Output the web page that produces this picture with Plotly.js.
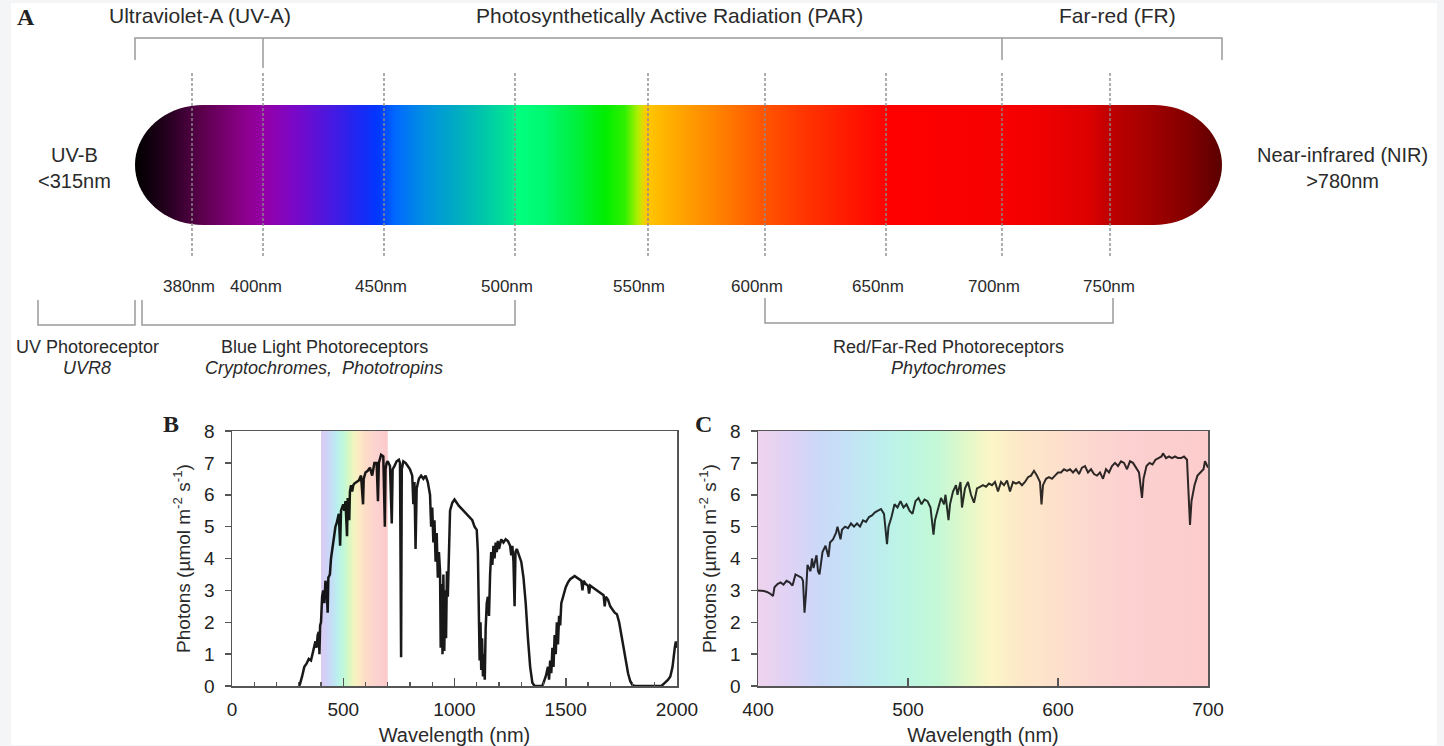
<!DOCTYPE html>
<html><head><meta charset="utf-8">
<script src="https://cdn.plot.ly/plotly-3.0.1.min.js"></script>
<style>html,body{margin:0;padding:0;background:#f4f5f7}</style>
</head><body><div id="chart" style="width:1444px;height:746px"></div>
<script>
// ---------------- DATA ----------------
// Panel B: solar photon spectrum 300-2000 nm
const wlB = [300,305,315,325,335,345,355,365,375,
380,385,390,393,396,400,405,410,415,420,
425,430,433,440,445,450,455,460,465,470,
475,480,486,490,495,500,505,510,517,520,
527,530,535,540,545,550,560,570,580,589,
592,600,610,620,630,640,650,656,660,670,
680,687,690,695,700,710,718,722,730,740,
750,755,760,763,770,780,790,800,810,815,
820,825,830,840,850,860,870,880,890,895,
900,905,910,915,920,925,930,935,938,942,
946,950,954,958,962,966,970,975,980,990,
1000,1010,1020,1040,1060,1080,1090,1100,1105,1110,
1113,1117,1120,1124,1128,1132,1136,1140,1145,1150,
1155,1160,1165,1170,1175,1180,1185,1190,1195,1200,
1210,1220,1230,1240,1250,1255,1260,1265,1270,1274,
1280,1290,1300,1310,1320,1330,1340,1350,1360,1395,
1400,1410,1420,1425,1430,1435,1440,1445,1450,1455,
1460,1465,1470,1475,1480,1490,1500,1510,1520,1530,
1540,1550,1560,1570,1575,1580,1590,1600,1605,1610,
1620,1630,1640,1650,1660,1670,1675,1680,1690,1700,
1710,1720,1730,1740,1750,1760,1770,1780,1790,1800,
1810,1930,1945,1960,1970,1980,1990,1995,2000];
const phB = [0,0.05,0.3,0.6,0.7,0.85,0.8,1.1,1.4,
1.2,1.6,1.7,1.0,1.9,2.0,2.8,3.0,2.6,3.3,
3.1,2.3,3.4,3.5,4.0,4.3,4.6,4.8,5.0,5.1,
5.3,5.4,4.4,5.5,5.6,5.7,5.5,5.8,4.7,5.9,
5.2,6.1,6.3,6.1,6.3,6.35,6.4,6.45,6.6,5.7,
6.5,6.7,6.75,6.85,6.6,7.0,7.0,5.8,7.0,7.25,
7.2,5.0,6.8,7.0,7.05,6.9,5.1,6.8,6.9,7.05,
7.1,7.0,0.9,6.8,7.05,7.0,6.9,6.8,6.6,5.7,
6.4,4.3,6.2,6.5,6.6,6.5,6.6,6.4,6.0,5.0,
5.6,4.5,5.2,3.9,4.8,3.4,4.2,3.6,1.2,3.2,
1.0,3.5,1.1,3.0,1.5,3.6,2.8,4.5,5.5,5.75,
5.85,5.75,5.65,5.5,5.35,5.2,5.0,4.9,4.2,2.5,
0.8,2.0,0.5,1.5,0.3,1.0,0.2,1.8,2.6,2.8,
2.2,3.5,4.2,3.8,4.4,4.0,4.5,4.2,4.55,4.3,
4.6,4.5,4.6,4.55,4.4,4.1,4.4,3.9,2.5,4.2,
4.3,4.1,3.9,3.4,2.6,1.5,0.6,0.1,0,0,
0.1,0.3,0.6,0.2,0.8,0.4,1.2,0.6,1.6,1.0,
2.0,1.3,2.2,1.9,2.6,2.9,3.1,3.25,3.35,3.4,
3.45,3.4,3.35,3.3,3.0,3.3,3.2,3.15,2.9,3.15,
3.1,3.05,3.0,2.95,2.9,2.85,2.5,2.8,2.7,2.5,
2.4,2.3,2.25,2.0,1.6,1.2,0.8,0.4,0.15,0.03,
0,0,0.1,0.2,0.3,0.6,1.2,1.4,1.2];

// Panel C: PAR detail 400-700 nm
const wlC = [400,402,404,406,408,410,411,413,415,417,
419,421,423,425,427,429,430,431,432,433,
435,436,437,439,440,441,443,445,447,448,
450,452,453,455,456,458,460,462,464,466,
468,470,472,474,476,478,480,482,484,486,
487,489,491,493,495,497,499,501,503,505,
507,509,511,513,515,517,518,520,522,524,
525,527,528,530,532,533,535,536,538,540,
542,544,546,548,550,552,554,556,558,560,
562,564,566,568,570,572,574,576,578,580,
582,584,586,588,589,590,592,594,596,598,
600,602,604,606,608,610,612,614,616,618,
620,622,624,626,628,630,632,634,636,638,
640,642,644,646,648,650,652,654,656,657,
659,661,663,665,667,669,670,672,674,676,
678,680,682,684,686,687,688,689,691,693,
695,697,698,700];
const phC = [3.0,3.0,2.98,2.95,2.9,2.82,3.1,3.2,3.25,3.18,
3.3,3.25,3.15,3.5,3.45,3.4,3.3,2.3,2.9,3.8,
3.6,4.0,3.7,4.1,3.6,3.5,4.2,4.4,4.05,4.5,
4.6,4.8,5.0,4.6,4.9,5.0,4.95,5.1,5.0,5.1,
5.0,5.2,5.15,5.3,5.35,5.45,5.5,5.55,5.4,4.45,
5.0,5.3,5.7,5.6,5.8,5.6,5.7,5.5,5.4,5.8,
5.9,5.7,5.85,5.8,5.6,4.75,5.2,5.6,5.9,5.7,
6.0,5.2,5.7,6.1,6.3,6.0,6.4,5.6,6.2,6.4,
6.0,5.75,6.2,6.25,6.3,6.25,6.35,6.3,6.4,6.1,
6.4,6.3,6.45,6.1,6.4,6.35,6.4,6.3,6.4,6.55,
6.6,6.75,6.6,6.4,5.7,6.3,6.5,6.55,6.5,6.6,
6.7,6.7,6.8,6.75,6.8,6.7,6.8,6.65,6.85,6.9,
6.7,6.8,6.65,6.6,6.7,6.5,6.8,6.7,6.9,7.0,
6.9,7.05,7.0,6.8,7.05,7.0,6.85,6.7,5.9,6.5,
6.9,7.0,6.95,7.1,7.15,7.2,7.3,7.15,7.2,7.15,
7.2,7.15,7.15,7.2,7.1,6.0,5.05,5.8,6.3,6.6,
6.7,6.8,7.05,6.85];

// Panel A labels
const markerLabels = ["380nm","400nm","450nm","500nm","550nm","600nm","650nm","700nm","750nm"];
const regionLabels = ["Ultraviolet-A (UV-A)","Photosynthetically Active Radiation (PAR)","Far-red (FR)"];
const receptorNames = ["UV Photoreceptor","Blue Light Photoreceptors","Red/Far-Red Photoreceptors"];
const receptorGenes = ["UVR8","Cryptochromes,  Phototropins","Phytochromes"];
const sideLabels = ["UV-B<br><315nm","Near-infrared (NIR)<br>>780nm"];
const panelLetters = ["A","B","C"];

// PAR band shown in panel B, and the pastel backgrounds
const parBandNm = [400, 700];
const bandStopsNm = [400,425,450,475,500,525,550,575,600,650,700];
const bandColors = ["#dccaf2","#cfd2f8","#c4e0f6","#b9f0ec","#bff8d8","#d8f8c4","#f4f4c0","#fde8c4","#fddcc8","#fcd2d0","#fbcaca"];
const cBgStopsNm = [400,420,440,460,480,500,520,540,555,575,600,625,650,700];
const cBgColors = ["#efd3ee","#e0d2f4","#ccd8f8","#c4e2f6","#bdeeee","#bcf6e2","#c4f8d6","#e4f8c8","#fcf6c8","#fde8c8","#fde0cc","#fcd6d0","#fcd0d0","#fccccc"];

// Spectrum bar colours (positions in px along the bar, layout)
const barStopsPx = [135,165,205,245,265,295,330,360,378,395,425,455,485,512,517,545,575,605,625,638,646,680,720,760,800,850,890,1030,1090,1108,1150,1190,1222];
const barColors = ["#000000","#22001c","#600050","#8c008c","#9400a8","#7a08c8","#4a18e0","#1a28f4","#0038ff","#0068ff","#0090e0","#00aac4","#00c8a8","#00e890","#00ff80","#00f870","#00f040","#00ee00","#30f000","#b0f000","#ffc800","#ffa400","#ff8000","#ff5800","#ff3800","#ff1800","#ff0000","#f40000","#dc0000","#c00000","#a20000","#800000","#5a0000"];

// ---------------- LAYOUT GEOMETRY (pixels) ----------------
const W = 1444, H = 746;
const markerPx = [192,263,384,515,648,765,886,1002,1110];
const markerLabelPx = [189,256,381,507,639,757,878,994,1109];
const bar = {x0:135, x1:1222, y0:105, y1:225, rx:68};
const FONT = "Liberation Sans, Arial, sans-serif";
const SERIF = "Liberation Serif, Times New Roman, serif";
const lineGray = "#9a9a9a";

function scale(stops, cols, lo, hi){ return stops.map((s,i)=>[(s-lo)/(hi-lo), cols[i]]); }

// rounded bar outline (geometry)
const barX = [], barY = [];
const cy = (bar.y0+bar.y1)/2, ry = (bar.y1-bar.y0)/2;
for (let a=90; a<=270; a+=5){ const r=a*Math.PI/180; barX.push(bar.x0+bar.rx + bar.rx*Math.cos(r)); barY.push(cy - ry*Math.sin(r)); }
for (let a=-90; a<=90; a+=5){ const r=a*Math.PI/180; barX.push(bar.x1-bar.rx + bar.rx*Math.cos(r)); barY.push(cy - ry*Math.sin(r)); }
barX.push(barX[0]); barY.push(barY[0]);

const traces = [
  { // PAR band in panel B
    x:[parBandNm[0],parBandNm[1],parBandNm[1],parBandNm[0],parBandNm[0]], y:[0,0,8,8,0],
    xaxis:'x', yaxis:'y', mode:'none', fill:'toself', hoverinfo:'skip',
    fillgradient:{type:'horizontal', colorscale: scale(bandStopsNm, bandColors, 400, 700)}
  },
  { x: wlB, y: phB, xaxis:'x', yaxis:'y', mode:'lines', line:{color:'rgba(0,0,0,0.9)', width:2.5} },
  { // panel C background
    x:[400,700,700,400,400], y:[0,0,8,8,0], xaxis:'x2', yaxis:'y2', mode:'none', fill:'toself', hoverinfo:'skip',
    fillgradient:{type:'horizontal', colorscale: scale(cBgStopsNm, cBgColors, 400, 700)}
  },
  { x: wlC, y: phC, xaxis:'x2', yaxis:'y2', mode:'lines', line:{color:'rgba(0,0,0,0.82)', width:2} },
  { // spectrum bar
    x: barX, y: barY, xaxis:'x3', yaxis:'y3', mode:'none', fill:'toself', hoverinfo:'skip',
    fillgradient:{type:'horizontal', start: bar.x0, stop: bar.x1, colorscale: scale(barStopsPx, barColors, bar.x0, bar.x1)}
  }
];

const shapes = [];
// white figure area
shapes.push({type:'rect', xref:'paper', yref:'paper', x0:11/W, x1:1437/W, y0:1/H, y1:1-3/H, fillcolor:'#ffffff', line:{width:0}, layer:'below'});
function seg(path, color, width, dash){ shapes.push({type:'path', xref:'x3', yref:'y3', path:path, line:{color:color||lineGray, width:width||1.5, dash:dash||'solid'}, layer:'above'}); }
// dashed marker lines
markerPx.forEach(px => seg(`M${px},73 L${px},258`, '#8c8c8c', 1.4, '3px,2px'));
// top bracket
seg(`M${bar.x0},60 L${bar.x0},38 L${bar.x1},38 L${bar.x1},60`);
seg(`M263,38 L263,68`);
seg(`M1002,38 L1002,60`);
// bottom brackets
seg(`M38,300 L38,325 L135,325 L135,300`);
seg(`M142,300 L142,325 L515,325 L515,300`);
seg(`M765,298 L765,323 L1113,323 L1113,298`);

const annotations = [];
function txt(x, y, text, size, opts){ annotations.push(Object.assign({xref:'x3', yref:'y3', x:x, y:y, text:text, showarrow:false, xanchor:'center', yanchor:'middle', font:{family:FONT, size:size, color:'#2a2a2a'}}, opts||{})); }
// region labels
txt(200, 15, regionLabels[0], 21);
txt(669, 15, regionLabels[1], 21);
txt(1117, 15, regionLabels[2], 21);
// marker labels
markerLabels.forEach((t,i)=> txt(markerLabelPx[i], 286, t, 17));
// side labels
txt(74, 168, sideLabels[0], 20);
txt(1342, 168, sideLabels[1], 20);
// receptors
txt(87, 347, receptorNames[0], 18);
txt(87, 368, '<i>'+receptorGenes[0]+'</i>', 18);
txt(324, 347, receptorNames[1], 18);
txt(324, 368, '<i>'+receptorGenes[1]+'</i>', 18);
txt(948, 347, receptorNames[2], 18);
txt(948, 368, '<i>'+receptorGenes[2]+'</i>', 18);
// panel letters
const letterFont = {family:SERIF, size:24, color:'#222'};
txt(26, 17, '<b>'+panelLetters[0]+'</b>', 24, {font:letterFont});
txt(171, 424, '<b>'+panelLetters[1]+'</b>', 24, {font:letterFont});
txt(703, 424, '<b>'+panelLetters[2]+'</b>', 24, {font:letterFont});

const yDom = [1-686/H, 1-431/H];
const tickFont = {family:FONT, size:19, color:'#222'};
const titleFont = {family:FONT, size:20, color:'#2a2a2a'};
const yTitleFont = {family:FONT, size:19, color:'#2a2a2a'};
const yTitle = 'Photons (µmol m<sup>-2</sup> s<sup>-1</sup>)';
const commonX = {showline:true, mirror:true, linecolor:'#555', linewidth:1.5, showgrid:false, zeroline:false,
  ticks:'inside', ticklen:8, tickcolor:'#555', tickwidth:1.5, tickfont:tickFont, ticklabelstandoff:6, fixedrange:true};
const commonY = {showline:true, mirror:true, linecolor:'#555', linewidth:1.5, showgrid:false, zeroline:false,
  ticks:'outside', ticklen:6, tickcolor:'#555', tickwidth:1.5, tickfont:tickFont, range:[0,8], dtick:1, ticklabelstandoff:6, fixedrange:true,
  title:{text:yTitle, font:yTitleFont, standoff:8}};

const layout = {
  width:W, height:H, margin:{l:0,r:0,t:0,b:0},
  paper_bgcolor:'#f4f5f7', plot_bgcolor:'rgba(0,0,0,0)',
  showlegend:false, hovermode:false,
  font:{family:FONT},
  xaxis: Object.assign({}, commonX, {domain:[232/W, 677/W], range:[0,2000], tickvals:[0,500,1000,1500,2000], anchor:'y',
    minor:{dtick:100, ticks:'inside', ticklen:4, tickcolor:'#555', tickwidth:1.2},
    title:{text:'Wavelength (nm)', font:titleFont, standoff:8}}),
  yaxis: Object.assign({}, commonY, {domain:yDom, anchor:'x'}),
  xaxis2: Object.assign({}, commonX, {domain:[758/W, 1208/W], range:[400,700], tickvals:[400,500,600,700], anchor:'y2',
    title:{text:'Wavelength (nm)', font:titleFont, standoff:8}}),
  yaxis2: Object.assign({}, commonY, {domain:yDom, anchor:'x2'}),
  xaxis3: {domain:[0,1], range:[0,W], visible:false, fixedrange:true, anchor:'y3'},
  yaxis3: {domain:[0,1], range:[H,0], visible:false, fixedrange:true, anchor:'x3'},
  shapes: shapes, annotations: annotations
};

Plotly.newPlot('chart', traces, layout, {staticPlot:true, displayModeBar:false});
</script></body></html>
